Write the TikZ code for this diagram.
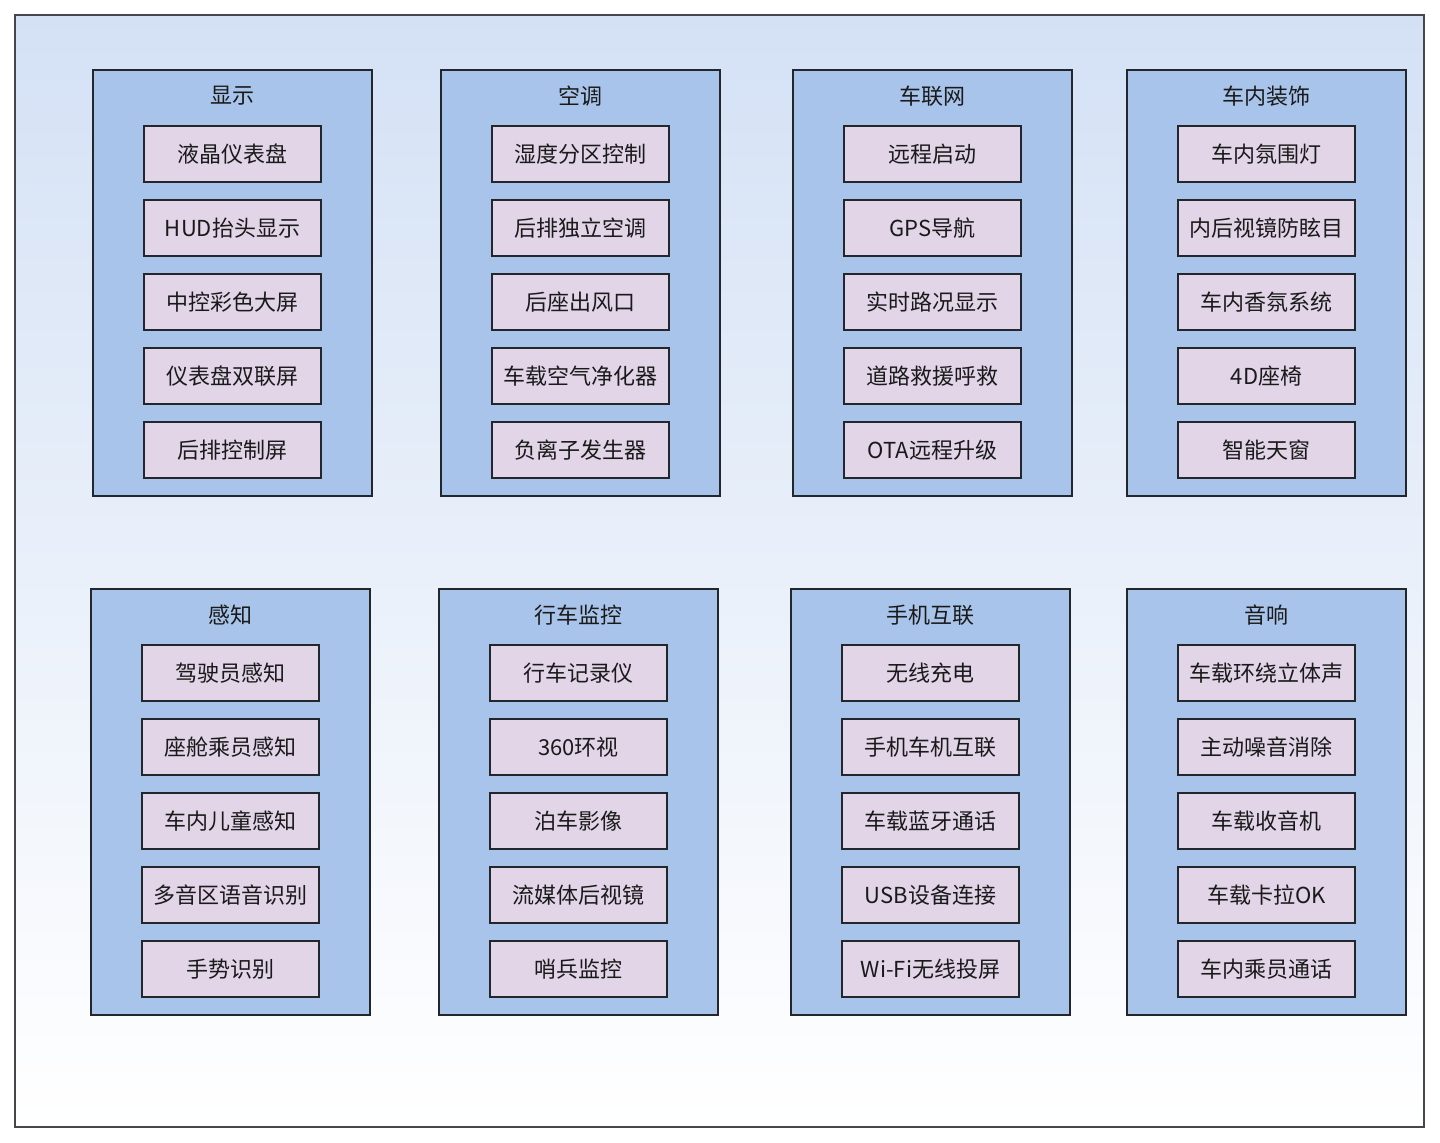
\documentclass[tikz,border=0pt]{standalone}
\usepackage{fontspec}
\setmainfont{Noto Sans CJK SC}
\definecolor{bgtop}{HTML}{D4E1F5}
\definecolor{grpfill}{HTML}{A9C4EB}
\definecolor{itemfill}{HTML}{E1D5E7}
\definecolor{edge}{HTML}{23262B}
\definecolor{txt}{HTML}{1A1A1A}
\begin{document}
\begin{tikzpicture}[x=0.5pt,y=-0.5pt,
  framebox/.style={draw=edge!85!white, line width=0.9pt, top color=bgtop, bottom color=white, minimum width=704.5pt, minimum height=556pt, inner sep=0pt},
  grpbox/.style={draw=edge, fill=grpfill, line width=1pt, minimum width=139.5pt, minimum height=213pt, inner sep=0pt},
  itembox/.style={draw=edge, fill=itemfill, line width=1pt, minimum width=88.5pt, minimum height=28pt, inner sep=0pt, font=\fontsize{11}{13}\selectfont, text=txt},
  ttl/.style={font=\fontsize{11}{13}\selectfont, text=txt, inner sep=0pt}]
\useasboundingbox (0,0) rectangle (1440,1143);
\node[framebox] (frame) at (719.5,571) {};
\foreach \n/\cx/\cy/\t/\a/\b/\c/\d/\e in {
  g1/232.5/283/显示/液晶仪表盘/HUD抬头显示/中控彩色大屏/仪表盘双联屏/后排控制屏,
  g2/580.5/283/空调/湿度分区控制/后排独立空调/后座出风口/车载空气净化器/负离子发生器,
  g3/932.5/283/车联网/远程启动/GPS导航/实时路况显示/道路救援呼救/OTA远程升级,
  g4/1266.5/283/车内装饰/车内氛围灯/内后视镜防眩目/车内香氛系统/4D座椅/智能天窗,
  g5/230.5/802/感知/驾驶员感知/座舱乘员感知/车内儿童感知/多音区语音识别/手势识别,
  g6/578.5/802/行车监控/行车记录仪/360环视/泊车影像/流媒体后视镜/哨兵监控,
  g7/930.5/802/手机互联/无线充电/手机车机互联/车载蓝牙通话/USB设备连接/Wi-Fi无线投屏,
  g8/1266.5/802/音响/车载环绕立体声/主动噪音消除/车载收音机/车载卡拉OK/车内乘员通话}{
  \node[grpbox] (\n) at (\cx,\cy) {};
  \node[ttl] (\n t) at (\cx,\cy-187) {\t};
  \node[itembox] (\n a) at (\cx,\cy-129) {\a};
  \node[itembox] (\n b) at (\cx,\cy-55) {\b};
  \node[itembox] (\n c) at (\cx,\cy+19) {\c};
  \node[itembox] (\n d) at (\cx,\cy+93) {\d};
  \node[itembox] (\n e) at (\cx,\cy+167) {\e};
}
\end{tikzpicture}
\end{document}
